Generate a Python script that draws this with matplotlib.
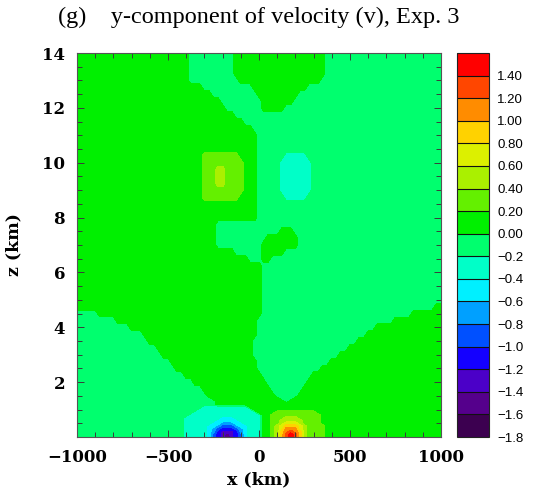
import numpy as np
import matplotlib
matplotlib.use("Agg")
import matplotlib.pyplot as plt
from matplotlib.ticker import MultipleLocator, FixedLocator

# ---------------- contour levels and colours (colour bar) ----------------
levels = [-1.8, -1.6, -1.4, -1.2, -1.0, -0.8, -0.6, -0.4, -0.2, 0.0,
          0.2, 0.4, 0.6, 0.8, 1.0, 1.2, 1.4, 1.6]
band_colors = ["#3c0050", "#55008c", "#4b00c8", "#1400ff", "#0050ff",
               "#00a0ff", "#00f0ff", "#00ffc8", "#00ff6e", "#00f000",
               "#64f000", "#aaf000", "#dcf000", "#ffd200", "#ff8c00",
               "#ff4600", "#ff0000"]
cbar_tick_values = levels[:-1]
cbar_tick_labels = ["\u22121.8", "\u22121.6", "\u22121.4", "\u22121.2", "\u22121.0",
                    "\u22120.8", "\u22120.6", "\u22120.4", "\u22120.2", "0.00",
                    "0.20", "0.40", "0.60", "0.80", "1.00", "1.20", "1.40"]

# band code -> value (centre of the colour band)
code_values = {'h': -1.7, 'g': -1.5, 'f': -1.3, 'e': -1.1, 'd': -0.9,
               'c': -0.7, 'b': -0.5, 'a': -0.3, '-': -0.1, '+': 0.1,
               '1': 0.3, '2': 0.5, '3': 0.7, '4': 0.9, '5': 1.1,
               '6': 1.3, '7': 1.5}

# grid columns (km)
x_km = list(range(-1000, 1001, 25))

# ---- upper part (z = 1.75 ... 14 km): band changes along each row, (x_start, code) ----
upper_z = [14.0, 13.75, 13.5, 13.25, 13.0, 12.75, 12.5, 12.25, 12.0, 11.75,
           11.5, 11.25, 11.0, 10.75, 10.5, 10.25, 10.0, 9.75, 9.5, 9.25,
           9.0, 8.75, 8.5, 8.25, 8.0, 7.75, 7.5, 7.25, 7.0, 6.75,
           6.5, 6.25, 6.0, 5.75, 5.5, 5.25, 5.0, 4.75, 4.5, 4.25,
           4.0, 3.75, 3.5, 3.25, 3.0, 2.75, 2.5, 2.25, 2.0, 1.75]
upper_breaks = [
    [(-1000, '+'), (-397, '-'), (-128, '+'), (363, '-')],     # 14.0
    [(-1000, '+'), (-397, '-'), (-128, '+'), (363, '-')],     # 13.75
    [(-1000, '+'), (-397, '-'), (-128, '+'), (363, '-')],     # 13.5
    [(-1000, '+'), (-397, '-'), (-128, '+'), (363, '-')],     # 13.25
    [(-1000, '+'), (-376, '-'), (-103, '+'), (341, '-')],     # 13.0
    [(-1000, '+'), (-311, '-'), (-29, '+'), (271, '-')],      # 12.75
    [(-1000, '+'), (-256, '-'), (-10, '+'), (218, '-')],      # 12.5
    [(-1000, '+'), (-222, '-'), (8, '+'), (177, '-')],        # 12.25
    [(-1000, '+'), (-187, '-'), (23, '+'), (136, '-')],       # 12.0
    [(-1000, '+'), (-149, '-')],                              # 11.75
    [(-1000, '+'), (-98, '-')],                               # 11.5
    [(-1000, '+'), (-37, '-')],                               # 11.25
    [(-1000, '+'), (-17, '-')],                               # 11.0
    [(-1000, '+'), (-10, '-')],                               # 10.75
    [(-1000, '+'), (-10, '-')],                               # 10.5
    [(-1000, '+'), (-310, '1'), (-110, '+'), (-10, '-'), (140, 'a'), (260, '-')],  # 10.25
    [(-1000, '+'), (-320, '1'), (-95, '+'), (-10, '-'), (110, 'a'), (290, '-')],   # 10.0
    [(-1000, '+'), (-320, '1'), (-240, '2'), (-180, '1'), (-95, '+'), (-10, '-'),
     (110, 'a'), (290, '-')],                                                       # 9.75
    [(-1000, '+'), (-320, '1'), (-240, '2'), (-180, '1'), (-95, '+'), (-10, '-'),
     (110, 'a'), (290, '-')],                                                       # 9.5
    [(-1000, '+'), (-320, '1'), (-240, '2'), (-180, '1'), (-95, '+'), (-10, '-'),
     (110, 'a'), (290, '-')],                                                       # 9.25
    [(-1000, '+'), (-320, '1'), (-95, '+'), (-10, '-'), (110, 'a'), (290, '-')],   # 9.0
    [(-1000, '+'), (-310, '1'), (-110, '+'), (-10, '-'), (140, 'a'), (260, '-')],  # 8.75
    [(-1000, '+'), (-10, '-')],                               # 8.5
    [(-1000, '+'), (-10, '-')],                               # 8.25
    [(-1000, '+'), (-10, '-')],                               # 8.0
    [(-1000, '+'), (-225, '-')],                              # 7.75
    [(-1000, '+'), (-240, '-'), (124, '+'), (200, '-')],      # 7.5
    [(-1000, '+'), (-245, '-'), (39, '+'), (210, '-')],       # 7.25
    [(-1000, '+'), (-229, '-'), (17, '+'), (216, '-')],       # 7.0
    [(-1000, '+'), (-140, '-'), (20, '+'), (147, '-')],       # 6.75
    [(-1000, '+'), (-63, '-'), (22, '+'), (74, '-')],         # 6.5
    [(-1000, '+'), (16, '-')],                                # 6.25
    [(-1000, '+'), (16, '-')],                                # 6.0
    [(-1000, '+'), (16, '-')],                                # 5.75
    [(-1000, '+'), (16, '-')],                                # 5.5
    [(-1000, '+'), (16, '-')],                                # 5.25
    [(-1000, '+'), (16, '-')],                                # 5.0
    [(-1000, '+'), (10, '-'), (970, '+')],                    # 4.75
    [(-1000, '-'), (-890, '+'), (3, '-'), (847, '+')],        # 4.5
    [(-1000, '-'), (-799, '+'), (-4, '-'), (741, '+')],       # 4.25
    [(-1000, '-'), (-708, '+'), (-10, '-'), (647, '+')],      # 4.0
    [(-1000, '-'), (-649, '+'), (-21, '-'), (582, '+')],      # 3.75
    [(-1000, '-'), (-612, '+'), (-35, '-'), (535, '+')],      # 3.5
    [(-1000, '-'), (-574, '+'), (-36, '-'), (487, '+')],      # 3.25
    [(-1000, '-'), (-536, '+'), (-29, '-'), (440, '+')],      # 3.0
    [(-1000, '-'), (-498, '+'), (-22, '-'), (391, '+')],      # 2.75
    [(-1000, '-'), (-454, '+'), (-15, '-'), (340, '+')],      # 2.5
    [(-1000, '-'), (-407, '+'), (6, '-'), (290, '+')],        # 2.25
    [(-1000, '-'), (-360, '+'), (31, '-'), (260, '+')],       # 2.0
    [(-1000, '-'), (-313, '+'), (56, '-'), (235, '+')],       # 1.75
]

# ---- near-surface part (z = 0 ... 1.5 km): one code per column for x = -450 ... 450 ----
surface_z = [1.5, 1.4, 1.3, 1.2, 1.1, 1.0, 0.9, 0.8, 0.7, 0.6,
             0.5, 0.4, 0.3, 0.2, 0.1, 0.0]
surface_left_code = '-'     # x < -450 km
surface_right_code = '+'    # x > 450 km
surface_rows = [
    "-"*7 + "+"*15 + "-"*5 + "+"*10,                    # 1.5
    "-"*8 + "+"*15 + "-"*3 + "+"*11,                    # 1.4
    "-"*9 + "+"*15 + "-" + "+"*12,                      # 1.3
    "-"*9 + "+"*28,                                     # 1.2
    "-"*6 + "a"*10 + "+"*21,                            # 1.1
    "-----" + "a"*12 + "+"*20,                          # 1.0
    "----" + "a"*14 + "++++" + "1"*9 + "+"*6,           # 0.9
    "---" + "a"*16 + "++" + "1"*11 + "+"*5,             # 0.8
    "--aaaaaaaabbbaaaaaa++11122211111+++++",            # 0.7
    "--aaaaaaabbbbbaaaaa++11222221111+++++",            # 0.6
    "--aaaaaabbcccbbaaaa++11233321111+++++",            # 0.5
    "--aaaaabbcdddcbbaaa++123444321111++++",            # 0.4
    "--aaaaabcdeeedcbaaa++123555321111++++",            # 0.3
    "--aaaaabcefffecbaaa++124565421111++++",            # 0.2
    "--aaaaabdefgfedbaaa++124676421111++++",            # 0.1
    "--aaaaabdefhfedbaaa++124676421111++++",            # 0.0
]

x_ticks = [-1000, -500, 0, 500, 1000]
z_ticks = [2, 4, 6, 8, 10, 12, 14]
title = "(g)    y-component of velocity (v), Exp. 3"


def row_from_breaks(breaks):
    out = []
    for x in x_km:
        code = breaks[0][1]
        for xs, c in breaks:
            if x >= xs:
                code = c
        out.append(code_values[code])
    return out


def row_from_surface(s):
    row = []
    for x in x_km:
        if x < -450:
            row.append(code_values[surface_left_code])
        elif x > 450:
            row.append(code_values[surface_right_code])
        else:
            row.append(code_values[s[(x + 450) // 25]])
    return row


z_all = upper_z + surface_z
Z_all = np.array([row_from_breaks(b) for b in upper_breaks] +
                 [row_from_surface(s) for s in surface_rows])
order = np.argsort(z_all)
z_sorted = np.array(z_all)[order]
Z_sorted = Z_all[order]

fig = plt.figure(figsize=(5.44, 4.95), dpi=100)
ax = fig.add_axes([77/544, 58/495, 364/544, 384/495])

cs = ax.contourf(x_km, z_sorted, Z_sorted, levels=levels, colors=band_colors, zorder=1)

ax.set_xlim(-1000, 1000)
ax.set_ylim(0, 14)
ax.xaxis.set_major_locator(FixedLocator(x_ticks))
ax.xaxis.set_minor_locator(MultipleLocator(100))
ax.yaxis.set_major_locator(FixedLocator(z_ticks))
ax.yaxis.set_minor_locator(MultipleLocator(0.5))
ax.tick_params(which='both', direction='in', top=True, right=True,
               color='#3a3a3a', width=0.7)
ax.tick_params(which='major', length=5, pad=8.5)
ax.tick_params(which='minor', length=3.5)
for lab in ax.get_xticklabels() + ax.get_yticklabels():
    lab.set_fontfamily('DejaVu Serif')
    lab.set_fontweight('bold')
    lab.set_fontsize(12)
for sp in ax.spines.values():
    sp.set_color('#555555')
    sp.set_linewidth(0.8)

ax.set_xlabel("x (km)", fontfamily='DejaVu Serif', fontweight='bold', fontsize=12.5)
ax.set_ylabel("z (km)", fontfamily='DejaVu Serif', fontweight='bold', fontsize=12.5)
ax.xaxis.set_label_coords(0.5, -0.09)
ax.yaxis.set_label_coords(-0.15, 0.5)

fig.text(259/544, 1 - 17/495, title, ha='center', va='center',
         fontsize=17.5, fontfamily='Liberation Serif')

cax = fig.add_axes([457/544, 58/495, 32/544, 384/495])
cb = fig.colorbar(cs, cax=cax, drawedges=True)
cb.set_ticks(cbar_tick_values)
cb.set_ticklabels(cbar_tick_labels)
cb.ax.tick_params(length=0, pad=6)
for lab in cb.ax.get_yticklabels():
    lab.set_fontfamily('Liberation Sans')
    lab.set_fontsize(9.5)
cb.outline.set_linewidth(0.8)
cb.outline.set_edgecolor('#222222')
cb.dividers.set_color('#111111')
cb.dividers.set_linewidth(0.8)

fig.savefig("out.png", dpi=100)
